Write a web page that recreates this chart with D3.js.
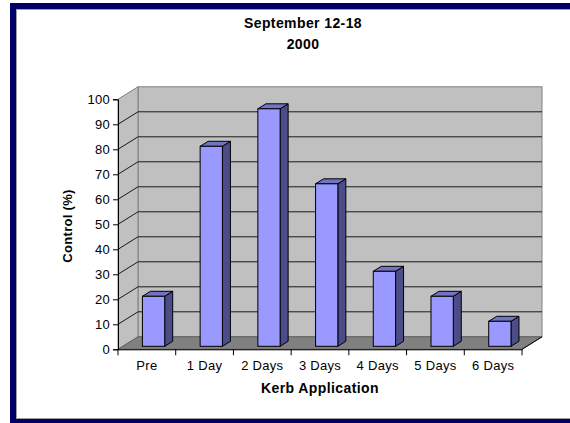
<!DOCTYPE html>
<html>
<head>
<meta charset="utf-8">
<script src="https://cdn.jsdelivr.net/npm/d3@7"></script>
<style>
  body { margin: 0; background: #fff; }
  svg { display: block; font-family: "Liberation Sans", Arial, sans-serif; }
</style>
</head>
<body>
<svg id="chart" width="570" height="423"></svg>
<script>
// chart data
const categories = ["Pre", "1 Day", "2 Days", "3 Days", "4 Days", "5 Days", "6 Days"];
const controlValues = [20, 80, 95, 65, 30, 20, 10];
const yTicks = [0, 10, 20, 30, 40, 50, 60, 70, 80, 90, 100];
const titleLines = ["September 12-18", "2000"];

const svg = d3.select("#chart");

// frame around the chart area
svg.append("rect")
    .attr("x", 10).attr("y", 3)
    .attr("width", 620).attr("height", 440)
    .attr("fill", "#000066");
svg.append("rect")
    .attr("x", 16.5).attr("y", 9.5)
    .attr("width", 600).attr("height", 409)
    .attr("fill", "#fff")
    .attr("stroke", "#a0a0a0");

// 3d depth offset of the plot box
const DX = 20, DY = -12.5;

const x = d3.scaleBand().domain(categories).range([118, 522]).padding(0);
const y = d3.scaleLinear().domain([0, 100]).range([349.3, 99.3]);

const left = x.range()[0], right = x.range()[1];
const g = svg.append("g");

// back wall
g.append("rect")
    .attr("x", left + DX).attr("y", y(100) + DY)
    .attr("width", right - left).attr("height", y(0) - y(100))
    .attr("fill", "#c0c0c0")
    .attr("stroke", "#808080");

// side wall
g.append("polygon")
    .attr("points", [
        [left, y(100)], [left + DX, y(100) + DY],
        [left + DX, y(0) + DY], [left, y(0)]
    ].map(p => p.join(",")).join(" "))
    .attr("fill", "#c0c0c0")
    .attr("stroke", "#808080");

// floor
g.append("polygon")
    .attr("points", [
        [left, y(0)], [left + DX, y(0) + DY],
        [right + DX, y(0) + DY], [right, y(0)]
    ].map(p => p.join(",")).join(" "))
    .attr("fill", "#808080")
    .attr("stroke", "#606060");

// gridlines on back and side walls
const grid = yTicks.filter(t => t > 0 && t < 100);
g.selectAll(".grid-back")
    .data(grid)
    .enter().append("line")
    .attr("x1", left + DX).attr("x2", right + DX)
    .attr("y1", d => y(d) + DY).attr("y2", d => y(d) + DY)
    .attr("stroke", "#1a1a1a");
g.selectAll(".grid-side")
    .data(grid)
    .enter().append("line")
    .attr("x1", left).attr("x2", left + DX)
    .attr("y1", d => y(d)).attr("y2", d => y(d) + DY)
    .attr("stroke", "#1a1a1a");

// bars
const step = x.step();
const barW = step * 0.386;
const d0 = 0.24, d1 = 0.64;

const bars = g.selectAll(".bar")
    .data(categories.map((c, i) => ({ cat: c, value: controlValues[i] })))
    .enter().append("g")
    .attr("class", "bar");

function pts(arr) { return arr.map(p => p.join(",")).join(" "); }

bars.each(function(d) {
    const b = d3.select(this);
    const x0 = x(d.cat) + step * 0.34 + d0 * DX;
    const x1 = x0 + barW;
    const yb = y(0) + d0 * DY;
    const yt = y(d.value) + d0 * DY;
    const ox = (d1 - d0) * DX, oy = (d1 - d0) * DY;

    b.append("polygon")
        .attr("points", pts([[x1, yb], [x1 + ox, yb + oy], [x1 + ox, yt + oy], [x1, yt]]))
        .attr("fill", "#4c4c88").attr("stroke", "#000").attr("stroke-width", 1);
    b.append("polygon")
        .attr("points", pts([[x0, yt], [x0 + ox, yt + oy], [x1 + ox, yt + oy], [x1, yt]]))
        .attr("fill", "#7373c4").attr("stroke", "#000").attr("stroke-width", 1);
    b.append("rect")
        .attr("x", x0).attr("y", yt)
        .attr("width", barW).attr("height", yb - yt)
        .attr("fill", "#9999ff").attr("stroke", "#000").attr("stroke-width", 1);
});

// y axis
const yAxis = svg.append("g")
    .attr("transform", `translate(${left},0)`)
    .call(d3.axisLeft(y).tickValues(yTicks).tickSize(5).tickPadding(3));
yAxis.select(".domain").attr("stroke", "#000");
yAxis.selectAll("text").attr("font-size", 13).attr("fill", "#000")
    .attr("letter-spacing", "0.3px")
    .attr("font-family", "Liberation Sans, Arial, sans-serif");

// x axis
const xAxis = svg.append("g")
    .attr("transform", `translate(0,${y(0)})`)
    .call(d3.axisBottom(x).tickSize(0).tickPadding(11));
xAxis.select(".domain").attr("stroke", "#000");
xAxis.selectAll("text").attr("font-size", 13).attr("fill", "#000")
    .attr("letter-spacing", "0.3px")
    .attr("font-family", "Liberation Sans, Arial, sans-serif");

// category boundary ticks
svg.append("g").selectAll("line")
    .data(categories.concat(["end"]))
    .enter().append("line")
    .attr("x1", (d, i) => left + i * step).attr("x2", (d, i) => left + i * step)
    .attr("y1", y(0)).attr("y2", y(0) + 6)
    .attr("stroke", "#000");

// right edge of floor, front
svg.append("line")
    .attr("x1", right).attr("y1", y(0))
    .attr("x2", right + DX).attr("y2", y(0) + DY)
    .attr("stroke", "#000");

// titles
svg.append("g").selectAll("text")
    .data(titleLines)
    .enter().append("text")
    .attr("x", 303)
    .attr("y", (d, i) => 28 + i * 21)
    .attr("text-anchor", "middle")
    .attr("font-size", 14)
    .attr("font-weight", "bold")
    .attr("letter-spacing", "0.4px")
    .text(d => d);

svg.append("text")
    .attr("x", (left + right) / 2)
    .attr("y", 393)
    .attr("text-anchor", "middle")
    .attr("font-size", 14)
    .attr("font-weight", "bold")
    .attr("letter-spacing", "0.4px")
    .text("Kerb Application");

svg.append("text")
    .attr("transform", "translate(72,226) rotate(-90)")
    .attr("text-anchor", "middle")
    .attr("font-size", 13)
    .attr("font-weight", "bold")
    .attr("letter-spacing", "0.3px")
    .text("Control (%)");
</script>
</body>
</html>
